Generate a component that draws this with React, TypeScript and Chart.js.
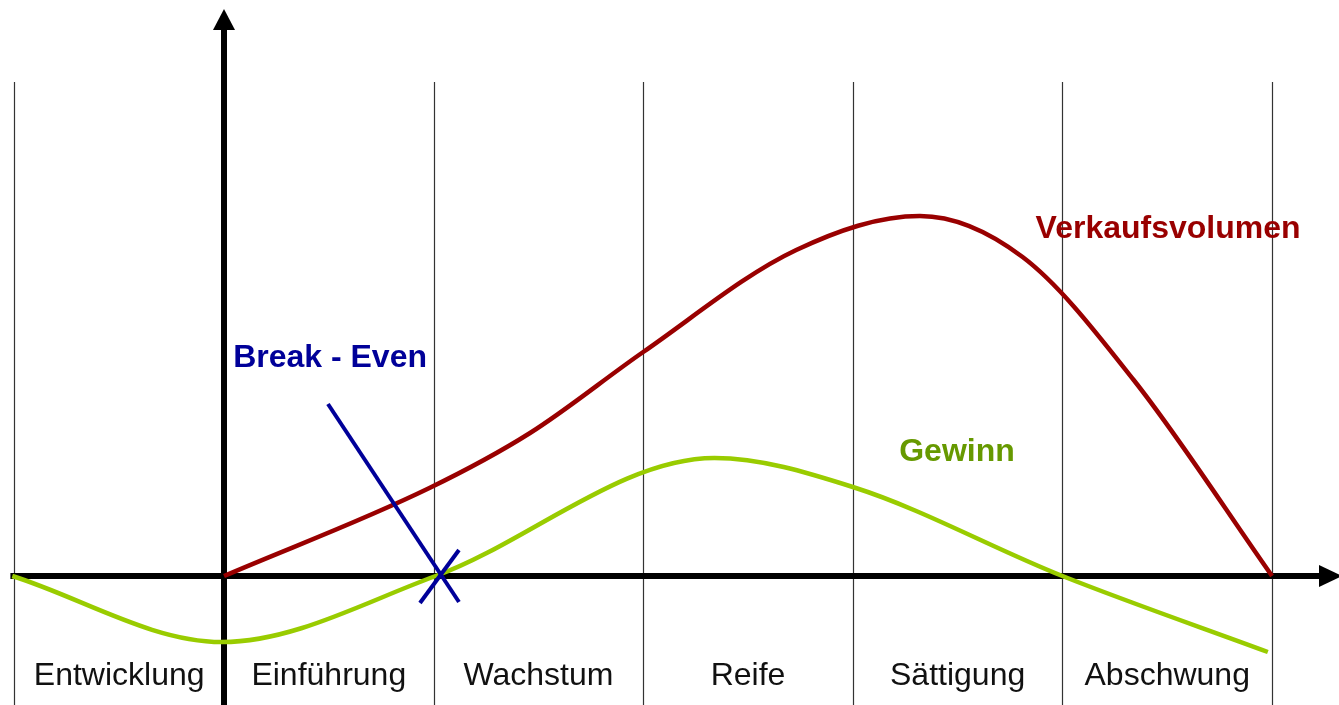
import React, { useEffect, useRef } from "react";
import { Chart, registerables } from "chart.js";

Chart.register(...registerables);

// Phase names and their boundaries (x units: one unit per phase, 0 = product launch)
const phaseNames = ["Entwicklung", "Einführung", "Wachstum", "Reife", "Sättigung", "Abschwung"];
const phaseBounds = [-1, 0, 1, 2, 3, 4, 5];

// Verkaufsvolumen (sales volume)
const salesX = [0, 0.98, 1.46, 2.0, 2.73, 3.32, 3.81, 4.34, 5.0];
const salesY = [0, 0.88, 1.43, 2.24, 3.26, 3.6, 3.19, 1.96, 0];

// Gewinn (profit)
const profitX = [-1.01, -0.01, 1.01, 2.34, 3.0, 4.0, 4.98];
const profitY = [0, -0.66, 0, 1.18, 0.89, 0, -0.76];

// Break-even marker (two strokes of the cross)
const breakLongX = [0.496, 1.121];
const breakLongY = [1.72, -0.26];
const breakShortX = [0.935, 1.121];
const breakShortY = [-0.27, 0.26];

// Text labels
const seriesLabels = ["Verkaufsvolumen", "Gewinn", "Break - Even"];
const seriesLabelX = [4.504, 3.497, 0.506];
const seriesLabelY = [3.47, 1.24, 2.18];
const seriesLabelColors = ["#990000", "#669900", "#000099"];
const phaseLabelY = -1.0;
const gridTop = 4.94;

const X_MIN = -1.0687;
const X_MAX = 5.3195;
const Y_MIN = -1.29;
const Y_MAX = 5.76;

const FONT = "'Liberation Sans', Arial, sans-serif";

const toPts = (xs: number[], ys: number[]) => xs.map((x, i) => ({ x, y: ys[i] }));

const decorPlugin = {
  id: "decor",
  beforeDatasetsDraw(chart: any) {
    const ctx = chart.ctx;
    const xs = chart.scales.x;
    const ys = chart.scales.y;
    const area = chart.chartArea;
    ctx.save();
    // vertical phase lines
    ctx.strokeStyle = "#333";
    ctx.lineWidth = 1.2;
    phaseBounds.forEach((b) => {
      const px = Math.round(xs.getPixelForValue(b)) + 0.5;
      ctx.beginPath();
      ctx.moveTo(px, ys.getPixelForValue(gridTop));
      ctx.lineTo(px, area.bottom);
      ctx.stroke();
    });
    // axes
    const x0 = xs.getPixelForValue(0);
    const y0 = ys.getPixelForValue(0);
    ctx.strokeStyle = "#000";
    ctx.fillStyle = "#000";
    ctx.lineWidth = 6;
    // horizontal
    ctx.beginPath();
    ctx.moveTo(xs.getPixelForValue(-1) - 4, y0);
    ctx.lineTo(area.right - 18, y0);
    ctx.stroke();
    ctx.beginPath();
    ctx.moveTo(area.right + 3, y0);
    ctx.lineTo(area.right - 20, y0 - 11);
    ctx.lineTo(area.right - 20, y0 + 11);
    ctx.closePath();
    ctx.fill();
    // vertical
    ctx.beginPath();
    ctx.moveTo(x0, area.bottom);
    ctx.lineTo(x0, area.top + 28);
    ctx.stroke();
    ctx.beginPath();
    ctx.moveTo(x0, area.top + 9);
    ctx.lineTo(x0 - 11, area.top + 30);
    ctx.lineTo(x0 + 11, area.top + 30);
    ctx.closePath();
    ctx.fill();
    ctx.restore();
  },
  afterDraw(chart: any) {
    const ctx = chart.ctx;
    const xs = chart.scales.x;
    const ys = chart.scales.y;
    ctx.save();
    ctx.textAlign = "center";
    ctx.textBaseline = "middle";
    ctx.font = `32px ${FONT}`;
    ctx.fillStyle = "#111";
    phaseNames.forEach((n, i) => {
      const cx = xs.getPixelForValue((phaseBounds[i] + phaseBounds[i + 1]) / 2);
      ctx.fillText(n, cx, ys.getPixelForValue(phaseLabelY));
    });
    ctx.font = `bold 32px ${FONT}`;
    seriesLabels.forEach((t, i) => {
      ctx.fillStyle = seriesLabelColors[i];
      ctx.fillText(t, xs.getPixelForValue(seriesLabelX[i]), ys.getPixelForValue(seriesLabelY[i]));
    });
    ctx.restore();
  },
};

export default function App() {
  const ref = useRef<HTMLCanvasElement | null>(null);
  useEffect(() => {
    if (!ref.current) return;
    const chart = new Chart(ref.current, {
      type: "line",
      data: {
        datasets: [
          {
            label: "Break-Even 1",
            data: toPts(breakLongX, breakLongY),
            borderColor: "#000099",
            borderWidth: 4,
            pointRadius: 0,
            tension: 0,
          },
          {
            label: "Break-Even 2",
            data: toPts(breakShortX, breakShortY),
            borderColor: "#000099",
            borderWidth: 4,
            pointRadius: 0,
            tension: 0,
          },
          {
            label: "Verkaufsvolumen",
            data: toPts(salesX, salesY),
            borderColor: "#990000",
            borderWidth: 4.5,
            pointRadius: 0,
            cubicInterpolationMode: "monotone",
          },
          {
            label: "Gewinn",
            data: toPts(profitX, profitY),
            borderColor: "#99cc00",
            borderWidth: 4.5,
            pointRadius: 0,
            cubicInterpolationMode: "monotone",
          },
        ],
      },
      options: {
        animation: false,
        responsive: true,
        maintainAspectRatio: false,
        layout: { padding: 0 },
        plugins: { legend: { display: false }, tooltip: { enabled: false } },
        scales: {
          x: { type: "linear", min: X_MIN, max: X_MAX, display: false },
          y: { type: "linear", min: Y_MIN, max: Y_MAX, display: false },
        },
      },
      plugins: [decorPlugin],
    } as any);
    return () => chart.destroy();
  }, []);
  return (
    <div style={{ position: "fixed", left: 0, top: 0, width: 1339, height: 705, background: "#fff" }}>
      <canvas ref={ref} />
    </div>
  );
}
